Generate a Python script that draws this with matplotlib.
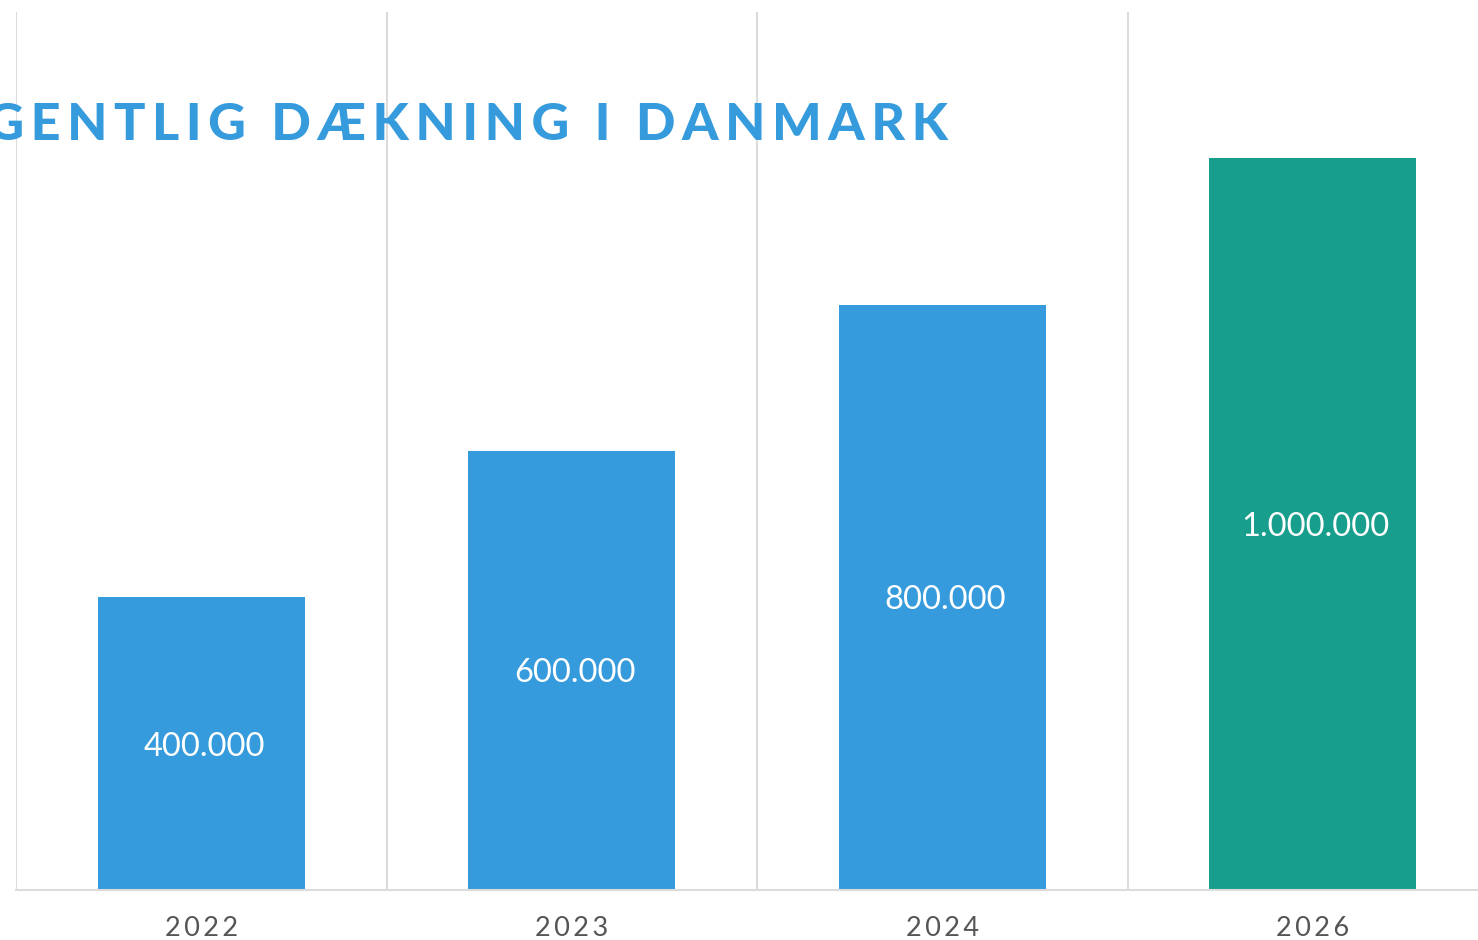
import matplotlib
matplotlib.use("Agg")
import matplotlib.pyplot as plt
from matplotlib.ticker import FixedLocator

categories = ["2022", "2023", "2024", "2026"]
values = [400000, 600000, 800000, 1000000]
value_labels = ["400.000", "600.000", "800.000", "1.000.000"]
bar_colors = ["#359bdc", "#359bdc", "#359bdc", "#189e8c"]
title = "UGENTLIG DÆKNING I DANMARK"

W, H = 1478, 940
fig = plt.figure(figsize=(W / 100, H / 100), dpi=100)
fig.patch.set_facecolor("white")

left = 16 / W
bottom = 1 - 890 / H
width = (370.5 * 4) / W
height = (890 - 12) / H
ax = fig.add_axes([left, bottom, width, height])

x = list(range(len(categories)))
ax.bar(x, values, width=0.559, color=bar_colors, zorder=3)
ax.set_xlim(-0.5, len(categories) - 0.5)
ax.set_ylim(0, 1200000)

for xi, v, lab in zip(x, values, value_labels):
    ax.text(xi + 0.008, v / 2, lab, ha="center", va="center_baseline", color="white",
            fontsize=23.5, family=["Lato", "DejaVu Sans"], zorder=4)

ax.set_xticks(x)
ax.set_xticklabels(["\u2009".join(c) for c in categories],
                   family=["Lato", "DejaVu Sans"], fontsize=19.5, color="#555555")
ax.tick_params(axis="x", length=0, pad=19)
ax.set_yticks([])
ax.xaxis.set_minor_locator(FixedLocator([i - 0.5 for i in range(len(categories) + 1)]))
ax.grid(which="minor", axis="x", color="#dcdcdc", linewidth=1.5, zorder=0)
ax.grid(which="major", visible=False)
ax.tick_params(axis="x", which="minor", length=0)
for s in ["top", "right", "left"]:
    ax.spines[s].set_visible(False)
ax.spines["bottom"].set_color("#dcdcdc")
ax.spines["bottom"].set_linewidth(1.5)
ax.spines["bottom"].set_zorder(5)

fig.text(948 / W, 1 - 125 / H, "\u2009".join(title), ha="right", va="center",
         fontsize=37.5, fontweight="black", color="#359bdc",
         family=["Lato", "DejaVu Sans"])

fig.savefig("out.png", dpi=100, facecolor="white")
